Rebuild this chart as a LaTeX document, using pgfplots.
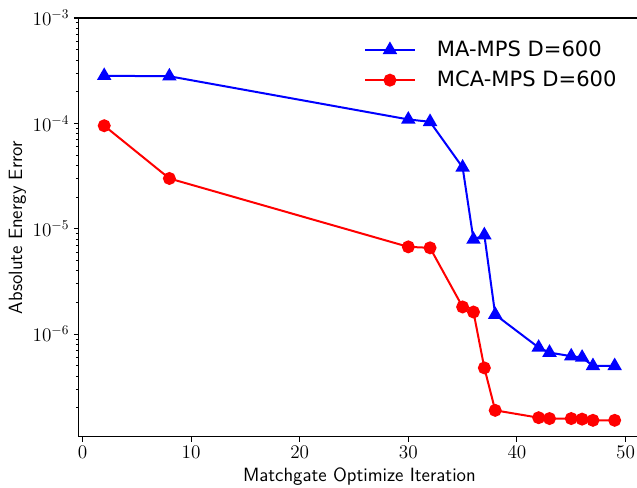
\documentclass[border=0pt]{standalone}
\usepackage{fontspec}
\usepackage{pgfplots}
\pgfplotsset{compat=1.18}
\newfontfamily\legfont{DejaVu Sans}
\definecolor{mplblue}{RGB}{0,0,255}
\definecolor{mplred}{RGB}{255,0,0}
\begin{document}
\begin{tikzpicture}
\begin{semilogyaxis}[
  scale only axis,
  width=421pt, height=314pt,
  xmin=-0.35, xmax=51.35,
  ymin=1.06e-7, ymax=1e-3,
  xtick={0,10,20,30,40,50},
  tick align=outside,
  xtick pos=left, ytick pos=left,
  major tick length=3.6pt,
  minor tick length=2.1pt,
  axis line style={line width=0.8pt},
  every tick/.style={black, line width=0.8pt},
  minor tick style={line width=0.6pt},
  tick label style={font=\fontsize{14.4}{17}\selectfont},
  label style={font=\sffamily\fontsize{14.4}{17}\selectfont},
  xlabel={Matchgate Optimize Iteration},
  ylabel={Absolute Energy Error},
  ylabel style={xshift=0pt, yshift=-2pt},
  legend style={draw=none, fill=none, inner sep=0pt, font=\legfont\fontsize{15.8}{19}\selectfont,
    at={(0.963,0.952)}, anchor=north east, row sep=5.5pt,
    /tikz/every odd column/.append style={column sep=14pt}},
  legend cell align=left,
  legend image code/.code={
    \draw[#1] (0pt,0pt) -- (37pt,0pt);
    \draw[#1, only marks] plot coordinates {(18.5pt,0pt)};
  },
]
\addplot[mplblue, line width=1.5pt, mark=triangle*, mark size=4.8pt, mark options={solid}]
  coordinates {
  (2,2.83e-4) (8,2.80e-4) (30,1.09e-4) (32,1.035e-4) (35,3.82e-5)
  (36,7.9e-6) (37,8.7e-6) (38,1.53e-6) (42,7.46e-7) (43,6.68e-7)
  (45,6.17e-7) (46,6.0e-7) (47,4.99e-7) (49,4.99e-7)
  };
\addlegendentry{MA-MPS D=600}
\addplot[mplred, line width=1.5pt, mark=*, mark size=4.1pt, mark options={solid}]
  coordinates {
  (2,9.5e-5) (8,3.0e-5) (30,6.73e-6) (32,6.59e-6) (35,1.81e-6)
  (36,1.62e-6) (37,4.78e-7) (38,1.89e-7) (42,1.61e-7) (43,1.58e-7)
  (45,1.58e-7) (46,1.56e-7) (47,1.52e-7) (49,1.52e-7)
  };
\addlegendentry{MCA-MPS D=600}
\coordinate (sw) at (rel axis cs:0,0);
\coordinate (ne) at (rel axis cs:1,1);
\end{semilogyaxis}
\pgfresetboundingbox
\path ([shift={(-59pt,-37.7pt)}]sw) rectangle ([shift={(-2.4pt,13.5pt)}]ne);
\end{tikzpicture}
\end{document}
